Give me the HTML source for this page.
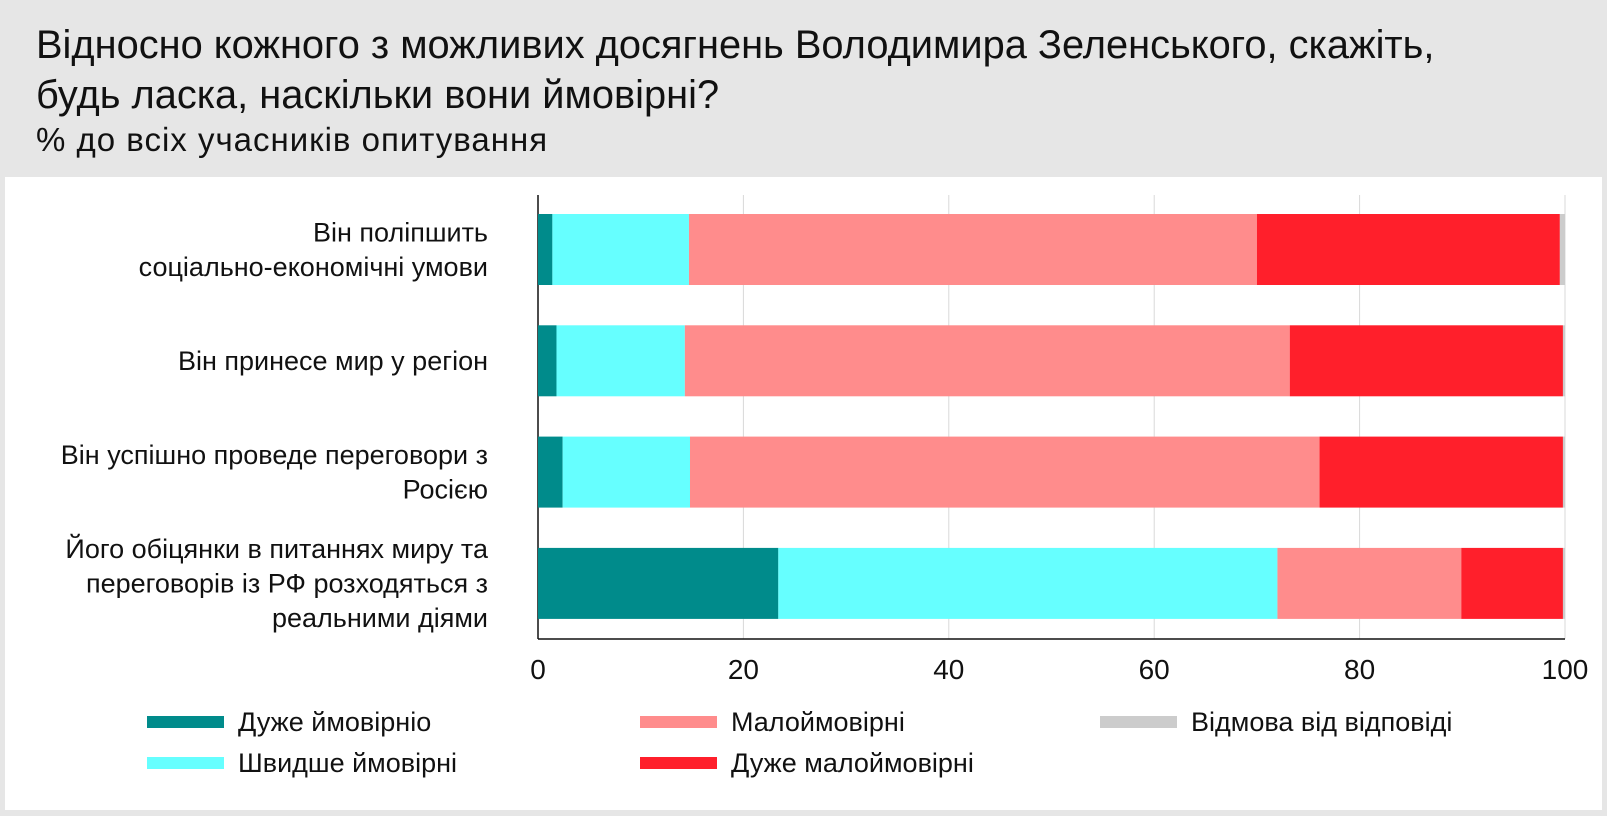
<!DOCTYPE html>
<html><head><meta charset="utf-8"><style>
body{margin:0;width:1607px;height:816px;background:#e6e6e6;overflow:hidden;font-family:"Liberation Sans","DejaVu Sans",sans-serif;}
svg{position:absolute;left:0;top:0}
</style></head><body>
<svg id="chart" width="1607" height="816">
<rect x="0" y="0" width="1607" height="816" fill="#e6e6e6"/>
<text x="36" y="58" font-size="39.8" fill="#111">Відносно кожного з можливих досягнень Володимира Зеленського, скажіть,</text>
<text x="36" y="108" font-size="39.8" fill="#111">будь ласка, наскільки вони ймовірні?</text>
<text x="36" y="151" font-size="33" letter-spacing="1" fill="#111">% до всіх учасників опитування</text>
<rect x="5" y="177" width="1597" height="633" fill="#fff"/>
<g id="grid"></g><g id="bars"></g><g id="labels"></g><g id="legend"></g>
</svg>
<script>
const categories=[["Він поліпшить","соціально-економічні умови"],["Він принесе мир у регіон"],["Він успішно проведе переговори з","Росією"],["Його обіцянки в питаннях миру та","переговорів із РФ розходяться з","реальними діями"]];
const veryLikely=[1.4,1.8,2.4,23.4];
const ratherLikely=[13.3,12.5,12.4,48.6];
const unlikely=[55.3,58.9,61.3,17.9];
const veryUnlikely=[29.5,26.6,23.7,9.9];
const refused=[0.5,0.2,0.2,0.2];
const ticks=[0,20,40,60,80,100];
const seriesNames=["Дуже ймовірніо","Швидше ймовірні","Малоймовірні","Дуже малоймовірні","Відмова від відповіді"];
const NS="http://www.w3.org/2000/svg";
const x0=538,x1=1565,top0=195,axisY=639,bandStart=214,pitch=111.3,barH=71;
const xs=v=>x0+(x1-x0)*v/100;
const yb=i=>bandStart+i*pitch;
function mk(tag,attrs,parent){const e=document.createElementNS(NS,tag);for(const k in attrs)e.setAttribute(k,attrs[k]);parent.appendChild(e);return e;}
const grid=document.getElementById('grid'),bars=document.getElementById('bars'),labels=document.getElementById('labels'),legend=document.getElementById('legend');
ticks.forEach(t=>{
 if(t>0){const l=mk('line',{x1:xs(t),x2:xs(t),y1:top0,y2:axisY,stroke:'#d9d9d9','stroke-width':1},grid);
 
 }
 const tx=mk('text',{x:xs(t),y:679,'font-size':28,'text-anchor':'middle',fill:'#111'},grid);tx.textContent=t;
 
 
});
const ax=mk('line',{x1:x0,x2:x0,y1:top0,y2:axisY,stroke:'#111','stroke-width':1.5},grid);


const bx=mk('line',{x1:x0,x2:x1,y1:axisY,y2:axisY,stroke:'#111','stroke-width':1.5},grid);


const series=[veryLikely,ratherLikely,unlikely,veryUnlikely,refused];
const colors=['#008b8b','#66ffff','#ff8c8c','#ff1f2b','#cccccc'];
categories.forEach((c,i)=>{
 let acc=0;
 series.forEach((s,j)=>{
  const r=mk('rect',{x:xs(acc),y:yb(i),width:xs(acc+s[i])-xs(acc),height:barH,fill:colors[j]},bars);
  
  
  acc+=s[i];
 });
 const n=c.length,cy=yb(i)+barH/2,lh=34.5;
 c.forEach((line,k)=>{
  const t=mk('text',{x:488,y:cy+(k-(n-1)/2)*lh+9,'font-size':27,'text-anchor':'end',fill:'#111'},labels);t.textContent=line;
  
  
 });
});
const legPos=[[147,722],[147,763],[640,722],[640,763],[1100,722]];
seriesNames.forEach((nm,j)=>{
 const [lx,ly]=legPos[j];
 const r=mk('rect',{x:lx,y:ly-6,width:77,height:12,fill:colors[j]},legend);
 
 
 const t=mk('text',{x:lx+91,y:ly+9,'font-size':27,fill:'#111'},legend);t.textContent=nm;
 
 
});
</script>
</body></html>
